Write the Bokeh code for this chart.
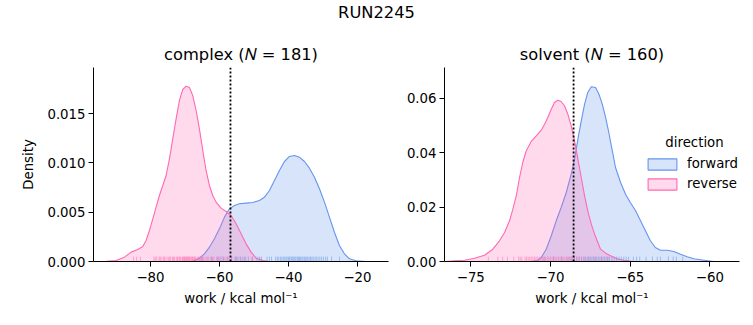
from bokeh.plotting import figure
from bokeh.models import Range1d, Span, Legend, LegendItem, Label, Div, FixedTicker, ColumnDataSource
from bokeh.layouts import column, row
from bokeh.embed import file_html
from bokeh.resources import INLINE

# ---------------- data ----------------
suptitle = "RUN2245"
phase_titles = ["complex (\U0001D441 = 181)", "solvent (\U0001D441 = 160)"]
direction_labels = ["forward", "reverse"]
direction_colors = ["#6495ED", "#FF69B4"]
x_label = "work / kcal mol\u207b\u00b9"
y_label = "Density"

# complex phase KDE curves
complex_forward_x = [-68.7, -67.73, -65.80, -64.35, -62.90, -61.45, -60.0, -58.55, -57.10, -55.65, -54.20,
                     -52.27, -50.34, -48.41, -46.96, -45.51, -44.06, -42.61, -41.16, -39.71, -38.26,
                     -36.81, -35.36, -33.91, -32.46, -31.01, -29.56, -28.12, -26.67, -25.22, -23.77,
                     -22.32, -20.39, -17.49, -15.0]
complex_forward_density = [0.0, 0.00003, 0.00034, 0.00078, 0.00145, 0.0023, 0.00331, 0.0045, 0.00534,
                           0.00568, 0.00585, 0.00592, 0.00598, 0.00619, 0.00652, 0.0072, 0.00821,
                           0.00923, 0.01014, 0.01065, 0.01075, 0.01058, 0.01014, 0.00946, 0.00855,
                           0.00737, 0.00602, 0.0045, 0.00297, 0.00162, 0.00078, 0.00027, 0.00007, 0.0, 0.0]
complex_reverse_x = [-95.0, -92.85, -89.95, -87.54, -85.60, -83.67, -82.22, -81.26, -80.29, -79.32, -78.36,
                     -77.39, -76.42, -75.46, -74.49, -73.53, -72.56, -71.59, -70.63, -69.66, -68.70,
                     -67.73, -66.76, -65.80, -64.83, -63.87, -62.90, -61.93, -60.97, -59.52, -58.07,
                     -56.62, -55.17, -53.72, -52.27, -50.82, -49.37, -47.44, -45.51]
complex_reverse_density = [0.0, 0.00003, 0.0001, 0.00044, 0.00095, 0.00122, 0.00152, 0.00213, 0.00314,
                           0.00433, 0.00551, 0.00669, 0.00771, 0.00872, 0.01041, 0.01244, 0.01447,
                           0.01633, 0.01744, 0.01778, 0.01764, 0.01683, 0.01531, 0.01345, 0.01126,
                           0.00923, 0.00771, 0.00669, 0.00602, 0.00541, 0.00507, 0.00466, 0.00382,
                           0.00281, 0.00179, 0.00095, 0.00034, 0.0001, 0.0]

# solvent phase KDE curves
solvent_forward_x = [-71.2, -70.79, -70.58, -70.27, -69.95, -69.64, -69.33, -69.01, -68.70, -68.49, -68.28,
                     -68.07, -67.86, -67.66, -67.44, -67.17, -66.96, -66.75, -66.54, -66.34, -66.12,
                     -65.92, -65.60, -65.29, -64.99, -64.66, -64.35, -64.04, -63.73, -63.42, -63.10,
                     -62.67, -62.26, -61.84, -61.42, -61.00, -60.37, -59.75]
solvent_forward_density = [0.0, 0.00048, 0.00147, 0.00453, 0.00946, 0.01498, 0.01988, 0.0254, 0.03213,
                           0.03766, 0.04502, 0.05179, 0.0579, 0.06221, 0.06431, 0.06405, 0.06158,
                           0.0579, 0.05301, 0.04748, 0.04075, 0.0346, 0.02908, 0.02477, 0.02172,
                           0.01866, 0.01498, 0.0113, 0.00762, 0.00515, 0.00416, 0.00416, 0.00368,
                           0.00269, 0.00173, 0.00099, 0.00048, 0.0]
solvent_reverse_x = [-76.6, -76.02, -75.39, -74.77, -74.14, -73.62, -73.20, -72.88, -72.57, -72.36, -72.15,
                     -71.94, -71.74, -71.52, -71.21, -70.89, -70.58, -70.37, -70.17, -69.95, -69.75,
                     -69.54, -69.33, -69.12, -68.91, -68.70, -68.49, -68.28, -68.07, -67.86, -67.66,
                     -67.44, -67.23, -66.86, -66.54, -66.23, -65.81, -65.40, -64.8]
solvent_reverse_density = [0.0, 0.00026, 0.00048, 0.00121, 0.00232, 0.00453, 0.00762, 0.01067, 0.01498,
                           0.01925, 0.02418, 0.03092, 0.03644, 0.04075, 0.04417, 0.04627, 0.04833,
                           0.05054, 0.05301, 0.05606, 0.05853, 0.05937, 0.0589, 0.05731, 0.05422,
                           0.04995, 0.04443, 0.03766, 0.03092, 0.02418, 0.01866, 0.01373, 0.01005,
                           0.00453, 0.00306, 0.0021, 0.00099, 0.00048, 0.0]

# individual work samples for the rug (estimated)
complex_forward_rug = [-65.0, -62.3, -60.5, -59.5, -58.9, -57.6, -56.4, -55.5, -55.0, -54.6, -53.8,
                       -53.2, -52.7, -51.6, -50.4, -49.1, -48.5, -47.8, -46.2, -45.5, -44.9, -43.7,
                       -43.2, -42.8, -42.3, -41.9, -41.5, -41.1, -40.7, -40.4, -40.0, -39.7, -39.3,
                       -39.0, -38.7, -38.4, -38.1, -37.8, -37.4, -37.1, -36.8, -36.5, -36.1, -35.8,
                       -35.4, -35.1, -34.7, -34.4, -34.0, -33.6, -33.2, -32.8, -32.3, -31.9, -31.4,
                       -30.9, -30.4, -29.8, -29.2, -28.7, -27.5, -25.2]
complex_reverse_rug = [-84.9, -84.0, -82.9, -79.0, -78.6, -78.2, -77.5, -77.2, -76.9, -76.3, -76.0,
                       -75.8, -75.2, -74.7, -74.4, -74.1, -73.6, -73.3, -73.0, -72.5, -72.2, -72.0,
                       -71.6, -71.4, -71.1, -70.7, -70.5, -70.3, -70.1, -69.9, -69.7, -69.5, -69.3,
                       -69.1, -68.9, -68.7, -68.5, -68.2, -68.0, -67.8, -67.6, -67.3, -67.1, -66.9,
                       -66.4, -66.1, -65.8, -65.5, -65.2, -64.8, -64.5, -63.9, -63.5, -63.1, -62.4,
                       -62.0, -61.6, -60.8, -60.3, -59.9, -58.9, -58.4, -57.8, -57.2, -56.5, -55.3,
                       -54.0, -52.4, -50.6, -48.3]
solvent_forward_rug = [-70.4, -69.8, -69.3, -68.9, -68.7, -68.5, -68.35, -68.2, -68.05, -67.9, -67.8,
                       -67.7, -67.6, -67.5, -67.4, -67.3, -67.2, -67.1, -67.0, -66.9, -66.8, -66.7,
                       -66.6, -66.5, -66.4, -66.3, -66.15, -66.0, -65.85, -65.7, -65.55, -65.4,
                       -65.25, -65.1, -64.8, -64.6, -64.4, -64.0, -63.6, -63.3, -63.1, -62.6, -62.3,
                       -62.1, -61.7]
solvent_reverse_rug = [-73.9, -73.3, -73.0, -72.7, -72.3, -72.0, -71.9, -71.8, -71.6, -71.5, -71.4,
                       -71.3, -71.2, -71.1, -71.0, -70.9, -70.8, -70.7, -70.6, -70.5, -70.4, -70.3,
                       -70.2, -70.1, -70.0, -69.9, -69.8, -69.7, -69.6, -69.5, -69.4, -69.3, -69.2,
                       -69.1, -69.0, -68.9, -68.8, -68.7, -68.6, -68.5, -68.35, -68.2, -68.05, -67.9,
                       -67.6, -67.2, -66.8, -66.4]

# dotted reference lines
complex_vline = -56.8
solvent_vline = -68.55

# axes ranges & ticks
complex_x_range = (-96.5, -11.0)
complex_y_range = (0.0, 0.01967)
solvent_x_range = (-76.65, -58.14)
solvent_y_range = (0.0, 0.0714)
complex_x_ticks = [-80, -60, -40, -20]
complex_x_tick_labels = ["\u221280", "\u221260", "\u221240", "\u221220"]
complex_y_ticks = [0.0, 0.005, 0.010, 0.015]
complex_y_tick_labels = ["0.000", "0.005", "0.010", "0.015"]
solvent_x_ticks = [-75, -70, -65, -60]
solvent_x_tick_labels = ["\u221275", "\u221270", "\u221265", "\u221260"]
solvent_y_ticks = [0.0, 0.02, 0.04, 0.06]
solvent_y_tick_labels = ["0.00", "0.02", "0.04", "0.06"]

FONT = "DejaVu Sans"
TICK_FS = "13.3px"


def make_panel(title, xr, yr, xt, xtl, yt, ytl, curves, rugs, vline, width, left, right, show_ylabel):
    p = figure(width=width, height=295, x_range=Range1d(*xr), y_range=Range1d(*yr),
               output_backend="svg", toolbar_location=None,
               min_border_left=left, min_border_right=right, min_border_top=37, min_border_bottom=64)
    p.outline_line_color = None
    p.grid.visible = False
    p.background_fill_color = "white"
    p.border_fill_color = "white"
    p.title.text = title
    p.title.align = "center"
    p.title.text_font = FONT
    p.title.text_font_size = "16.3px"
    p.title.text_font_style = "normal"
    p.title.text_color = "black"
    p.title.standoff = 7

    for ax in (p.xaxis[0], p.yaxis[0]):
        ax.axis_line_color = "black"
        ax.axis_line_width = 1
        ax.major_tick_line_color = "black"
        ax.major_tick_out = 5
        ax.major_tick_in = 0
        ax.minor_tick_line_color = None
        ax.major_label_text_font = FONT
        ax.major_label_text_font_size = TICK_FS
        ax.major_label_text_color = "black"
        ax.axis_label_text_font = FONT
        ax.axis_label_text_font_size = TICK_FS
        ax.axis_label_text_font_style = "normal"
        ax.axis_label_text_color = "black"

    p.xaxis.ticker = FixedTicker(ticks=xt)
    p.xaxis.major_label_overrides = {t: l for t, l in zip(xt, xtl)}
    p.yaxis.ticker = FixedTicker(ticks=yt)
    p.yaxis.major_label_overrides = {t: l for t, l in zip(yt, ytl)}
    p.xaxis.major_label_standoff = 5
    p.yaxis.major_label_standoff = 3
    p.xaxis.axis_label = x_label
    p.xaxis.axis_label_standoff = 6
    if show_ylabel:
        p.yaxis.axis_label = y_label
        p.yaxis.axis_label_standoff = 8

    patches = []
    for (cx, cy), col in zip(curves, direction_colors):
        src = ColumnDataSource(dict(x=cx, y=cy))
        r = p.patch(x="x", y="y", source=src, fill_color=col, fill_alpha=0.25,
                    line_color=col, line_width=1.1)
        patches.append(r)

    rug_h = 0.025 * (yr[1] - yr[0])
    for vals, col in zip(rugs, direction_colors):
        rs = ColumnDataSource(dict(x=vals))
        p.segment(x0="x", y0=0, x1="x", y1=rug_h, source=rs, line_color=col, line_alpha=0.5, line_width=1)

    p.add_layout(Span(location=vline, dimension="height", line_color="black",
                      line_dash="2 2", line_width=1.8))
    return p, patches


p1, _ = make_panel(phase_titles[0], complex_x_range, complex_y_range, complex_x_ticks, complex_x_tick_labels,
                   complex_y_ticks, complex_y_tick_labels,
                   [(complex_forward_x, complex_forward_density), (complex_reverse_x, complex_reverse_density)],
                   [complex_forward_rug, complex_reverse_rug], complex_vline, 390, 93, 2, True)
p2, p2_patches = make_panel(phase_titles[1], solvent_x_range, solvent_y_range, solvent_x_ticks,
                            solvent_x_tick_labels, solvent_y_ticks, solvent_y_tick_labels,
                            [(solvent_forward_x, solvent_forward_density),
                             (solvent_reverse_x, solvent_reverse_density)],
                            [solvent_forward_rug, solvent_reverse_rug], solvent_vline, 363, 54, 14, False)

items = [LegendItem(label=lab, renderers=[r]) for lab, r in zip(direction_labels, p2_patches)]
legend = Legend(items=items, location=(200, 70), background_fill_alpha=0, border_line_alpha=0,
                padding=0, margin=0, glyph_width=36, glyph_height=14, label_height=14,
                spacing=5, label_standoff=7, label_text_font=FONT, label_text_font_size=TICK_FS,
                label_text_color="black")
p2.add_layout(legend, "center")
p2.add_layout(Label(x=250, y=119, x_units="screen", y_units="screen", text="direction",
                    text_align="center", text_baseline="middle", text_font=FONT,
                    text_font_size=TICK_FS, text_color="black"))

header = Div(text=suptitle, width=753, height=30, margin=(0, 0, 0, 0),
             styles={"text-align": "center", "font-family": FONT, "font-size": "16.3px",
                     "line-height": "26px", "color": "black", "width": "753px"})

layout = column(header, row(p1, p2, spacing=0), spacing=0)
open("out.html", "w").write(file_html(layout, INLINE))
